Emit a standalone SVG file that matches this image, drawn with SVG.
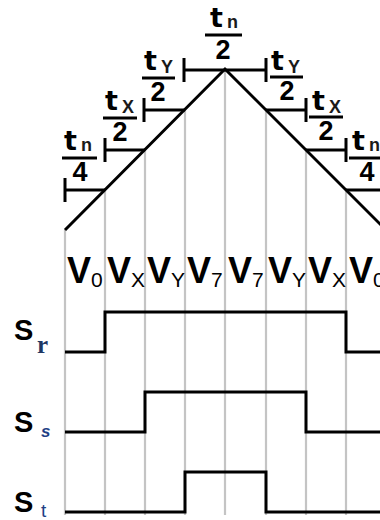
<svg xmlns="http://www.w3.org/2000/svg" width="380" height="520" viewBox="0 0 380 520">
<style>
.grid{stroke:#c4c4c4;stroke-width:2.2;fill:none}
.blk{stroke:#000;stroke-width:3;fill:none;stroke-linecap:butt}
.t{font-family:"DejaVu Sans",sans-serif;font-weight:bold;font-size:27px;fill:#000}
.sub{font-family:"Liberation Sans",Arial,sans-serif;font-weight:bold;font-size:18px;fill:#1a1a1a}
.den{font-family:"Liberation Sans",Arial,sans-serif;font-weight:bold;font-size:27px;fill:#000;text-anchor:middle}
.v{font-family:"Liberation Sans",Arial,sans-serif;font-weight:bold;font-size:36px;fill:#000}
.vs{font-family:"Liberation Sans",Arial,sans-serif;font-size:21px;fill:#000}
.s{font-family:"Liberation Sans",Arial,sans-serif;font-weight:bold;font-size:29px;fill:#000}
</style>
<rect width="380" height="520" fill="#fff"/>
<g id="grid">
<line class="grid" x1="65" y1="230" x2="65" y2="515"/>
<line class="grid" x1="105" y1="190" x2="105" y2="515"/>
<line class="grid" x1="145" y1="150" x2="145" y2="515"/>
<line class="grid" x1="185" y1="110" x2="185" y2="515"/>
<line class="grid" x1="225" y1="70" x2="225" y2="515"/>
<line class="grid" x1="266" y1="110" x2="266" y2="515"/>
<line class="grid" x1="306" y1="150" x2="306" y2="515"/>
<line class="grid" x1="346" y1="190" x2="346" y2="515"/>
</g>
<g id="connectors">
<path class="blk" d="M65,230 L225,69 L382,226"/>
<path class="blk" d="M65,178 V202 M65,190 H105 M105,138 V162 M105,150 H145 M144,98 V122 M144,110 H185 M184,58 V82 M184,70 H266 M266,58 V82 M266,110 H306 M306,98 V122 M306,150 H346 M346,138 V162 M346,190 H382"/>
</g>
<g id="frac-tn4-left">
<text class="t" x="64" y="150">t</text><text class="sub" x="81" y="151">n</text>
<line class="blk" x1="62" y1="158" x2="97" y2="158"/>
<text class="den" x="80" y="181">4</text>
</g>
<g id="frac-tx2-left">
<text class="t" x="105" y="110">t</text><text class="sub" x="122" y="113">X</text>
<line class="blk" x1="103" y1="118" x2="137" y2="118"/>
<text class="den" x="120" y="141">2</text>
</g>
<g id="frac-ty2-left">
<text class="t" x="144" y="70">t</text><text class="sub" x="161" y="73">Y</text>
<line class="blk" x1="142" y1="78" x2="175" y2="78"/>
<text class="den" x="158" y="101">2</text>
</g>
<g id="frac-tn2-top">
<text class="t" x="210" y="27">t</text><text class="sub" x="227" y="28">n</text>
<line class="blk" x1="205" y1="35" x2="242" y2="35"/>
<text class="den" x="223" y="59">2</text>
</g>
<g id="frac-ty2-right">
<text class="t" x="271" y="70">t</text><text class="sub" x="288" y="73">Y</text>
<line class="blk" x1="270" y1="77" x2="303" y2="77"/>
<text class="den" x="287" y="100">2</text>
</g>
<g id="frac-tx2-right">
<text class="t" x="312" y="110">t</text><text class="sub" x="329" y="113">X</text>
<line class="blk" x1="309" y1="117" x2="343" y2="117"/>
<text class="den" x="326" y="140">2</text>
</g>
<g id="frac-tn4-right">
<text class="t" x="352" y="150">t</text><text class="sub" x="369" y="151">n</text>
<line class="blk" x1="349" y1="158" x2="384" y2="158"/>
<text class="den" x="367" y="181">4</text>
</g>
<g id="vectors">
<text x="67" y="283"><tspan class="v">V</tspan><tspan class="vs" dy="4">0</tspan></text>
<text x="107" y="283"><tspan class="v">V</tspan><tspan class="vs" dy="4">X</tspan></text>
<text x="147" y="283"><tspan class="v">V</tspan><tspan class="vs" dy="4">Y</tspan></text>
<text x="187" y="283"><tspan class="v">V</tspan><tspan class="vs" dy="4">7</tspan></text>
<text x="228" y="283"><tspan class="v">V</tspan><tspan class="vs" dy="4">7</tspan></text>
<text x="268" y="283"><tspan class="v">V</tspan><tspan class="vs" dy="4">Y</tspan></text>
<text x="308" y="283"><tspan class="v">V</tspan><tspan class="vs" dy="4">X</tspan></text>
<text x="349" y="283"><tspan class="v">V</tspan><tspan class="vs" dy="4">0</tspan></text>
</g>
<g id="Sr">
<text class="s" x="14" y="340">S</text>
<text x="37" y="353" font-family="'Liberation Serif',serif" font-weight="bold" font-size="25" fill="#1f3763">r</text>
<path class="blk" d="M65,352 H105 V312 H346 V352 H382"/>
</g>
<g id="Ss">
<text class="s" x="14" y="432">S</text>
<text x="41" y="437" font-family="'Liberation Sans',sans-serif" font-weight="bold" font-style="italic" font-size="17" fill="#1f3f85">s</text>
<path class="blk" d="M65,432 H145 V392 H306 V432 H382"/>
</g>
<g id="St">
<text class="s" x="14" y="512">S</text>
<text x="41" y="517" font-family="'Liberation Sans',sans-serif" font-size="19" fill="#1f3f85">t</text>
<path class="blk" d="M65,512 H185 V472 H266 V512 H382"/>
</g>
</svg>
